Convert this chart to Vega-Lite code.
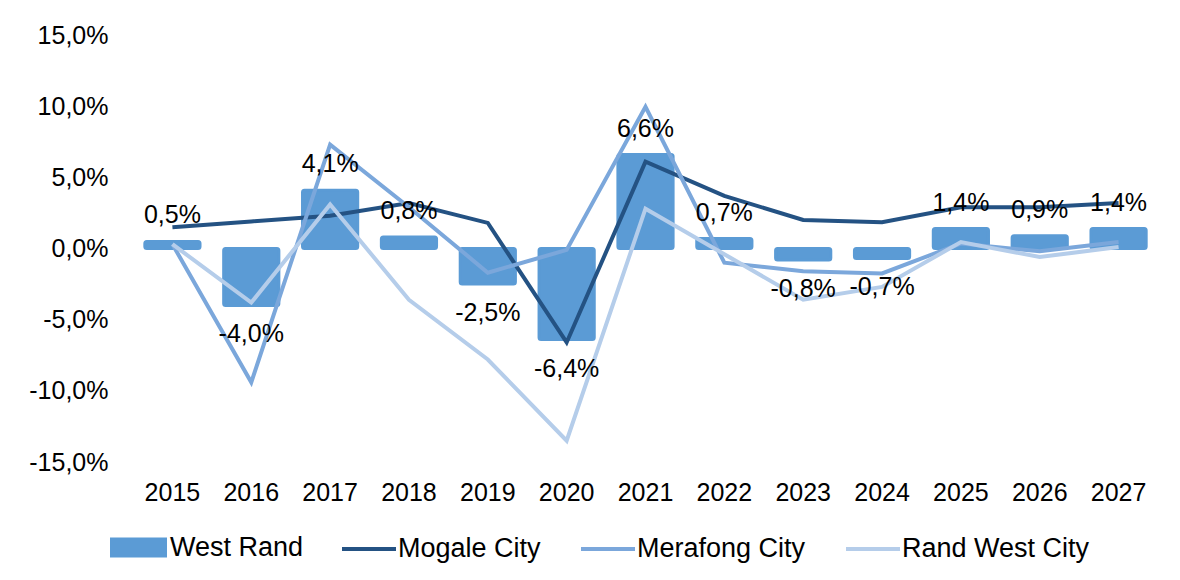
{
  "$schema": "https://vega.github.io/schema/vega-lite/v6.json",
  "width": 1025,
  "height": 427,
  "autosize": {"type": "none"},
  "padding": {"left": 133, "top": 35, "right": 22, "bottom": 118},
  "background": "white",
  "config": {
    "locale": {"number": {"decimal": ",", "thousands": " ", "grouping": [3], "currency": ["", ""], "minus": "-"}},
    "font": "Liberation Sans",
    "view": {"stroke": null},
    "axis": {"labelFont": "Liberation Sans", "labelFontSize": 25, "labelColor": "#000000", "domain": false, "ticks": false, "grid": false, "title": null},
    "legend": {"padding": 0, "labelFont": "Liberation Sans", "labelFontSize": 27, "labelColor": "#000000", "labelLimit": 400, "title": null, "direction": "horizontal", "orient": "none"}
  },
  "datasets": {
    "growth": [
      {"year": "2015", "series": "West Rand", "value": 0.005},
      {"year": "2016", "series": "West Rand", "value": -0.040},
      {"year": "2017", "series": "West Rand", "value": 0.041},
      {"year": "2018", "series": "West Rand", "value": 0.008},
      {"year": "2019", "series": "West Rand", "value": -0.025},
      {"year": "2020", "series": "West Rand", "value": -0.064},
      {"year": "2021", "series": "West Rand", "value": 0.066},
      {"year": "2022", "series": "West Rand", "value": 0.007},
      {"year": "2023", "series": "West Rand", "value": -0.008},
      {"year": "2024", "series": "West Rand", "value": -0.007},
      {"year": "2025", "series": "West Rand", "value": 0.014},
      {"year": "2026", "series": "West Rand", "value": 0.009},
      {"year": "2027", "series": "West Rand", "value": 0.014},
      {"year": "2015", "series": "Mogale City", "value": 0.015},
      {"year": "2016", "series": "Mogale City", "value": 0.019},
      {"year": "2017", "series": "Mogale City", "value": 0.023},
      {"year": "2018", "series": "Mogale City", "value": 0.032},
      {"year": "2019", "series": "Mogale City", "value": 0.018},
      {"year": "2020", "series": "Mogale City", "value": -0.066},
      {"year": "2021", "series": "Mogale City", "value": 0.061},
      {"year": "2022", "series": "Mogale City", "value": 0.037},
      {"year": "2023", "series": "Mogale City", "value": 0.020},
      {"year": "2024", "series": "Mogale City", "value": 0.0185},
      {"year": "2025", "series": "Mogale City", "value": 0.029},
      {"year": "2026", "series": "Mogale City", "value": 0.029},
      {"year": "2027", "series": "Mogale City", "value": 0.032},
      {"year": "2015", "series": "Merafong City", "value": 0.003},
      {"year": "2016", "series": "Merafong City", "value": -0.094},
      {"year": "2017", "series": "Merafong City", "value": 0.073},
      {"year": "2018", "series": "Merafong City", "value": 0.029},
      {"year": "2019", "series": "Merafong City", "value": -0.017},
      {"year": "2020", "series": "Merafong City", "value": -0.001},
      {"year": "2021", "series": "Merafong City", "value": 0.0995},
      {"year": "2022", "series": "Merafong City", "value": -0.010},
      {"year": "2023", "series": "Merafong City", "value": -0.016},
      {"year": "2024", "series": "Merafong City", "value": -0.0175},
      {"year": "2025", "series": "Merafong City", "value": 0.0035},
      {"year": "2026", "series": "Merafong City", "value": -0.002},
      {"year": "2027", "series": "Merafong City", "value": 0.0045},
      {"year": "2015", "series": "Rand West City", "value": 0.003},
      {"year": "2016", "series": "Rand West City", "value": -0.038},
      {"year": "2017", "series": "Rand West City", "value": 0.031},
      {"year": "2018", "series": "Rand West City", "value": -0.036},
      {"year": "2019", "series": "Rand West City", "value": -0.078},
      {"year": "2020", "series": "Rand West City", "value": -0.135},
      {"year": "2021", "series": "Rand West City", "value": 0.028},
      {"year": "2022", "series": "Rand West City", "value": -0.004},
      {"year": "2023", "series": "Rand West City", "value": -0.036},
      {"year": "2024", "series": "Rand West City", "value": -0.027},
      {"year": "2025", "series": "Rand West City", "value": 0.0045},
      {"year": "2026", "series": "Rand West City", "value": -0.006},
      {"year": "2027", "series": "Rand West City", "value": 0.001}
    ]
  },
  "data": {"name": "growth"},
  "encoding": {
    "x": {"field": "year", "type": "ordinal", "scale": {"paddingInner": 0.3, "paddingOuter": 0.15}, "axis": {"labelAngle": 0, "labelPadding": 18, "orient": "bottom"}},
    "y": {"field": "value", "type": "quantitative", "scale": {"domain": [-0.15, 0.15], "nice": false, "zero": false}, "axis": {"values": [-0.15, -0.1, -0.05, 0, 0.05, 0.1, 0.15], "format": ".1%", "labelPadding": 25}}
  },
  "layer": [
    {
      "transform": [{"filter": "datum.series === 'West Rand'"}],
      "mark": {"type": "bar", "cornerRadius": 2, "stroke": "#5b9bd5", "strokeWidth": 3, "strokeJoin": "round"},
      "encoding": {
        "fill": {"field": "series", "type": "nominal", "scale": {"domain": ["West Rand"], "range": ["#5b9bd5"]},
          "legend": {"legendX": -23, "legendY": 484, "symbolType": "M-1,-0.35H1V0.35H-1Z", "symbolSize": 3249, "symbolStrokeWidth": 0, "symbolOpacity": 1, "labelOffset": 3}}
      }
    },
    {
      "mark": {"type": "rule", "color": "#d9d9d9", "strokeWidth": 2},
      "encoding": {"y": {"datum": 0}}
    },
    {
      "transform": [{"filter": "datum.series !== 'West Rand'"}],
      "mark": {"type": "line", "strokeWidth": 4},
      "encoding": {
        "stroke": {"field": "series", "type": "nominal",
          "scale": {"domain": ["Mogale City", "Merafong City", "Rand West City"], "range": ["#245283", "#7ba7db", "#b5cdea"]},
          "legend": {"legendX": 207, "legendY": 485, "symbolType": "stroke", "symbolSize": 2916, "symbolStrokeWidth": 4, "labelOffset": 0, "columnPadding": 32}}
      }
    },
    {
      "transform": [{"filter": "datum.series === 'West Rand' && datum.value >= 0"}],
      "mark": {"type": "text", "baseline": "alphabetic", "dy": -18, "fontSize": 25, "font": "Liberation Sans", "color": "#000000"},
      "encoding": {"text": {"field": "value", "type": "quantitative", "format": ".1%"}}
    },
    {
      "transform": [{"filter": "datum.series === 'West Rand' && datum.value < 0"}],
      "mark": {"type": "text", "baseline": "top", "dy": 17, "fontSize": 25, "font": "Liberation Sans", "color": "#000000"},
      "encoding": {"text": {"field": "value", "type": "quantitative", "format": ".1%"}}
    }
  ]
}
